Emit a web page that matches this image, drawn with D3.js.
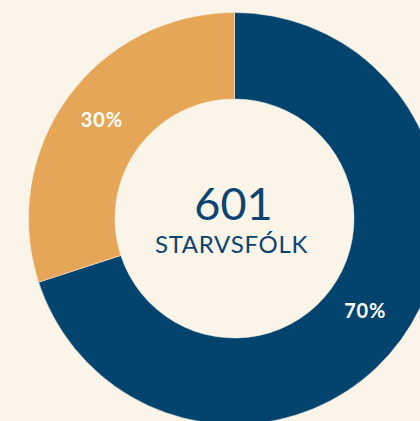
<!DOCTYPE html>
<html>
<head>
<meta charset="utf-8">
<script src="https://cdn.jsdelivr.net/npm/d3@7"></script>
<style>
  html, body { margin: 0; padding: 0; background: #faf4e9; }
  svg { display: block; }
  text { font-family: Lato, "Open Sans", sans-serif; }
</style>
</head>
<body>
<svg id="chart" width="420" height="421"></svg>
<script>
// Data
var categories = ['Konur', 'Karlar'];
var shares = [70, 30];
var sliceColors = ['#02446e', '#e5a657'];
var total = 601;
var totalLabel = 'STARVSFÓLK';

var svg = d3.select('#chart');
var w = 420, h = 421;

svg.append('rect').attr('width', w).attr('height', h).attr('fill', '#faf4e9');

// Geometry
var cx = 234.5, cy = 218.5;
var outer = 206, inner = 119.5;

var pie = d3.pie().sort(null).value(d => d.value);
var arc = d3.arc().innerRadius(inner).outerRadius(outer);

var data = d3.zip(categories, shares).map(d => ({ name: d[0], value: d[1] }));

var g = svg.append('g').attr('transform', 'translate(' + cx + ',' + cy + ')');

var slices = g.selectAll('path').data(pie(data));
slices.enter().append('path')
    .attr('d', arc)
    .attr('fill', (d, i) => sliceColors[i])
    .attr('stroke', '#faf4e9')
    .attr('stroke-width', 0.5);

// Percentage labels
g.selectAll('text.pct').data(pie(data)).enter().append('text')
    .classed('pct', true)
    .attr('transform', d => 'translate(' + arc.centroid(d) + ')')
    .attr('text-anchor', 'middle')
    .attr('x', -1)
    .attr('dy', '0.2em')
    .attr('fill', '#ffffff')
    .attr('font-weight', 700)
    .attr('font-size', 20)
    .attr('letter-spacing', 0.8)
    .text(d => d.data.value + '%');

// Centre text
g.append('text')
    .attr('text-anchor', 'middle')
    .attr('x', -1)
    .attr('y', 1)
    .attr('fill', '#0b4470')
    .attr('font-size', 45)
    .text(total);

g.append('text')
    .attr('text-anchor', 'middle')
    .attr('x', -3)
    .attr('y', 34.5)
    .attr('fill', '#0b4470')
    .attr('font-size', 24)
    .attr('letter-spacing', 0.7)
    .text(totalLabel);
</script>
</body>
</html>
